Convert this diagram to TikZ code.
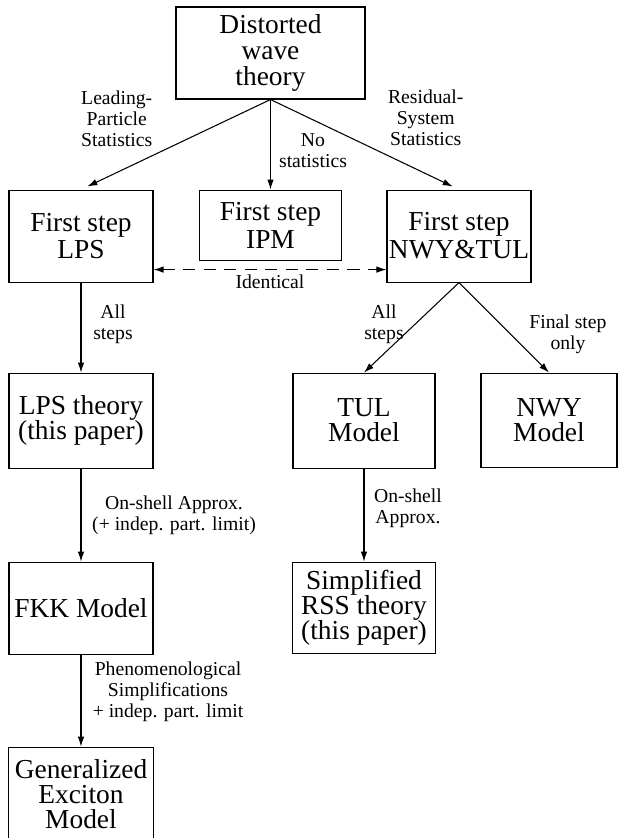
\documentclass[tikz,border=0pt]{standalone}
\usepackage{fontspec}
\setmainfont{Liberation Serif}
\usetikzlibrary{arrows.meta,positioning}

\begin{document}
\begin{tikzpicture}[>={Latex[length=2mm,width=1.3mm]}, line width=0.6pt]
\tikzstyle{box}=[draw, line width=0.6pt, align=center, minimum width=2.88cm, minimum height=1.84cm, inner sep=1pt, font=\fontsize{15.6}{14.2}\selectfont]
\tikzstyle{lbl}=[align=center, inner sep=1pt, font=\fontsize{11.2}{11.9}\selectfont]
\useasboundingbox (-5.41,-15.7) rectangle (6.95,1.06);

\node[box, minimum width=3.78cm, font=\fontsize{15.6}{14.6}\selectfont] (dwt) {Distorted\\wave\\theory};
\node[box, below=1.8cm of dwt, minimum width=2.84cm, minimum height=1.4cm, font=\fontsize{15.6}{15.9}\selectfont] (ipm) {First step\\IPM};
\node[box, below=1.8cm of dwt, xshift=-3.79cm, font=\fontsize{15.6}{15.9}\selectfont] (lps1) {First step\\LPS};
\node[box, below=1.8cm of dwt, xshift=3.77cm, font=\fontsize{15.6}{15.9}\selectfont] (nt1) {First step\\NWY\&TUL};

\node[box, below=1.8cm of lps1, minimum height=1.9cm] (lpsth) {LPS theory\\(this paper)};
\node[box, below=1.8cm of nt1, xshift=-1.9cm, minimum width=2.84cm, minimum height=1.9cm] (tul) {TUL\\Model};
\node[box, below=1.8cm of nt1, xshift=1.8cm, minimum width=2.72cm, minimum height=1.88cm] (nwy) {NWY\\Model};

\node[box, below=1.86cm of lpsth] (fkk) {FKK Model};
\node[box, below=1.86cm of tul, minimum width=2.86cm, minimum height=1.82cm] (rss) {Simplified\\RSS theory\\(this paper)};
\node[box, below=1.84cm of fkk, minimum width=2.9cm, minimum height=1.88cm] (gem) {Generalized\\Exciton\\Model};

\draw[->, shorten >=0.14cm] (dwt.south) -- (lps1.north) node[lbl, midway, xshift=-1.18cm, yshift=0.52cm] {Leading-\\Particle\\Statistics};
\draw[->] (dwt.south) -- (ipm.north) node[lbl, midway, xshift=0.85cm, yshift=-0.12cm] {No\\statistics};
\draw[->, shorten >=0.14cm] (dwt.south) -- (nt1.north) node[lbl, midway, xshift=1.22cm, yshift=0.54cm] {Residual-\\System\\Statistics};
\draw[<->, dash pattern=on 0.24cm off 0.17cm] ([yshift=0.26cm]lps1.south east) -- ([yshift=0.26cm]nt1.south west) node[lbl, midway, yshift=-0.24cm] {Identical};
\draw[->] (lps1) -- (lpsth) node[lbl, midway, xshift=0.64cm, yshift=0.06cm] {All\\steps};
\draw[->] (nt1.south) -- (tul.north) node[lbl, midway, xshift=-0.55cm, yshift=0.06cm] {All\\steps};
\draw[->] (nt1.south) -- (nwy.north) node[lbl, midway, xshift=1.28cm, yshift=-0.14cm] {Final step\\only};
\draw[->] (lpsth) -- (fkk) node[lbl, midway, xshift=1.86cm] {On-shell Approx.\\(+ indep. part. limit)};
\draw[->] (tul) -- (rss) node[lbl, midway, xshift=0.88cm, yshift=0.13cm] {On-shell\\Approx.};
\draw[->] (fkk) -- (gem) node[lbl, midway, xshift=1.74cm, yshift=0.18cm] {Phenomenological\\Simplifications\\+ indep. part. limit};
\end{tikzpicture}
\end{document}
